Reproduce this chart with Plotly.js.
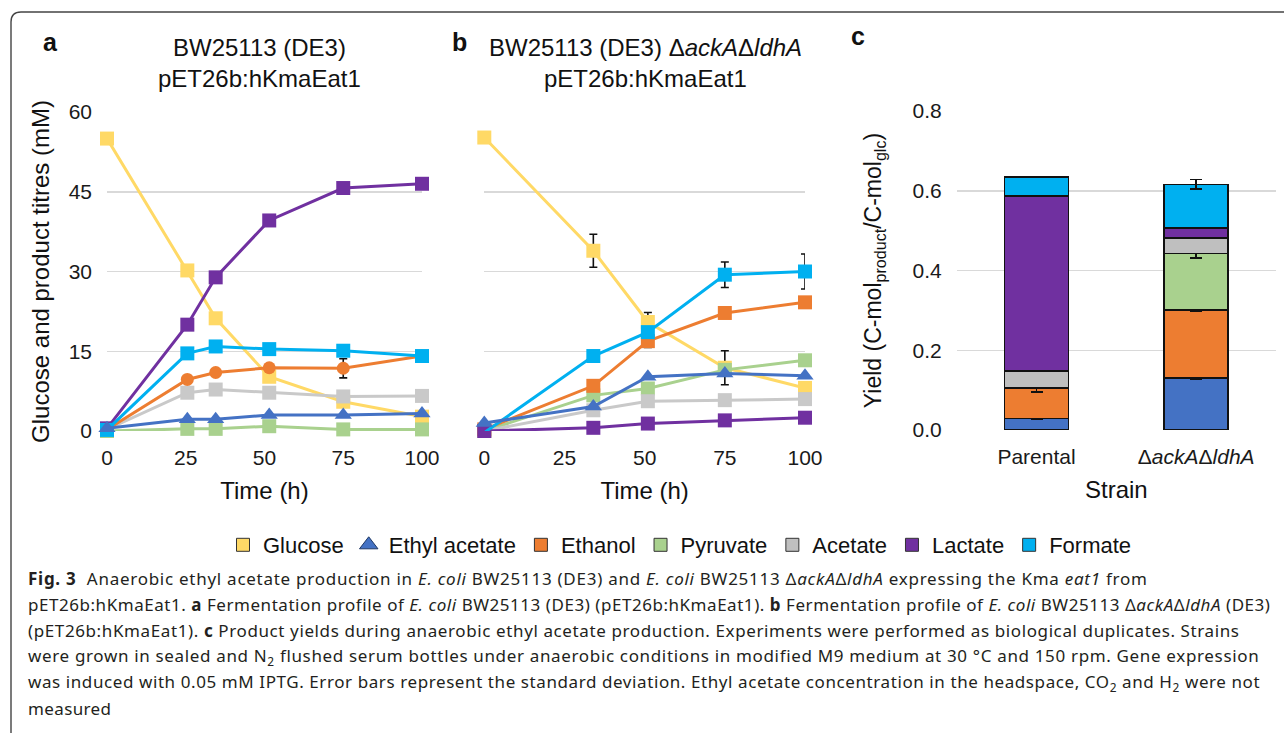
<!DOCTYPE html>
<html>
<head>
<meta charset="utf-8">
<script src="https://cdn.plot.ly/plotly-3.0.1.min.js"></script>
<style>html,body{margin:0;padding:0;background:#fff;}#chart{width:1284px;height:734px;}</style>
</head>
<body>
<div id="chart"></div>
<script>
// ---------- data ----------
const timeA = [0, 25.5, 34.5, 51.5, 75, 100];
const glucoseA = [55, 30.2, 21.2, 10.2, 5.5, 2.7];
const glucoseErrA = [0, 0.6, 0, 0, 0, 0];
const ethylAcetateA = [0.5, 2.2, 2.2, 3.0, 3.0, 3.3];
const ethanolA = [0.3, 9.7, 11.0, 11.9, 11.8, 14.1];
const ethanolErrA = [0, 0, 0, 0, 1.8, 0];
const pyruvateA = [0, 0.4, 0.4, 0.9, 0.3, 0.3];
const acetateA = [0.3, 7.2, 7.8, 7.2, 6.5, 6.6];
const lactateA = [0.5, 20.0, 28.9, 39.6, 45.7, 46.5];
const formateA = [0.2, 14.6, 15.9, 15.4, 15.1, 14.1];
const formateErrA = [0, 0.5, 0, 0, 0, 0];

const timeB = [0, 34, 51, 75, 100];
const glucoseB = [55.2, 33.9, 20.5, 11.9, 8.1];
const glucoseErrB = [0, 3.1, 1.8, 3.2, 0];
const ethylAcetateB = [1.5, 4.6, 10.2, 10.8, 10.4];
const ethanolB = [0.3, 8.5, 16.9, 22.2, 24.2];
const ethanolErrB = [0, 1.0, 1.2, 0, 0];
const pyruvateB = [0, 6.7, 8.0, 11.5, 13.3];
const acetateB = [0, 3.9, 5.6, 5.8, 6.0];
const lactateB = [0, 0.6, 1.4, 2.0, 2.5];
const formateB = [-0.3, 14.1, 18.6, 29.4, 30.0];
const formateErrB = [0, 0, 0, 2.4, 3.3];

const strains = ['Parental', 'Δ<i>ackA</i>Δ<i>ldhA</i>'];
const yieldEthylAcetate = [0.029, 0.130];
const yieldEthylAcetateErr = [0.003, 0.002];
const yieldEthanol = [0.076, 0.171];
const yieldEthanolErr = [0.010, 0.002];
const yieldPyruvate = [0.0, 0.142];
const yieldPyruvateErr = [0, 0.012];
const yieldAcetate = [0.043, 0.039];
const yieldAcetateErr = [0.001, 0.001];
const yieldLactate = [0.439, 0.024];
const yieldLactateErr = [0.001, 0.001];
const yieldFormate = [0.048, 0.110];
const yieldFormateErr = [0.001, 0.012];

const legendNames = ['Glucose', 'Ethyl acetate', 'Ethanol', 'Pyruvate', 'Acetate', 'Lactate', 'Formate'];

// ---------- styles ----------
const C = {
  glucose: '#FFD966', ea: '#4472C4', ethanol: '#ED7D31', pyruvate: '#A9D18E',
  acetate: '#C9C9C9', lactate: '#7030A0', formate: '#00B0F0'
};
const FONT = 'Arial, "Liberation Sans", sans-serif';
const W = 1284, H = 734;
const px = v => v / W;
const py = v => 1 - v / H;

function line(x, y, color, symbol, xa, ya, err, size) {
  const t = {
    type: 'scatter', mode: 'lines+markers', x: x, y: y, xaxis: xa, yaxis: ya,
    showlegend: false, cliponaxis: false, hoverinfo: 'skip',
    line: {color: color, width: 3},
    marker: {color: color, symbol: symbol, size: size || 14}
  };
  if (err) t.error_y = {type: 'data', array: err, visible: true, color: '#111', thickness: 1.6, width: 4};
  return t;
}

const traces = [];
// panel a
traces.push(line(timeA, glucoseA, C.glucose, 'square', 'x', 'y', glucoseErrA));
traces.push(line(timeA, pyruvateA, C.pyruvate, 'square', 'x', 'y'));
traces.push(line(timeA, acetateA, C.acetate, 'square', 'x', 'y'));
traces.push(line(timeA, ethanolA, C.ethanol, 'circle', 'x', 'y', ethanolErrA, 13));
traces.push(line(timeA, lactateA, C.lactate, 'square', 'x', 'y'));
traces.push(line(timeA, formateA, C.formate, 'square', 'x', 'y', formateErrA));
traces.push(line(timeA, ethylAcetateA, C.ea, 'triangle-up', 'x', 'y', null, 15));
// panel b
traces.push(line(timeB, glucoseB, C.glucose, 'square', 'x2', 'y2', glucoseErrB));
traces.push(line(timeB, pyruvateB, C.pyruvate, 'square', 'x2', 'y2'));
traces.push(line(timeB, acetateB, C.acetate, 'square', 'x2', 'y2'));
traces.push(line(timeB, ethanolB, C.ethanol, 'square', 'x2', 'y2', ethanolErrB));
traces.push(line(timeB, lactateB, C.lactate, 'square', 'x2', 'y2'));
traces.push(line(timeB, formateB, C.formate, 'square', 'x2', 'y2', formateErrB));
traces.push(line(timeB, ethylAcetateB, C.ea, 'triangle-up', 'x2', 'y2', null, 15));

// panel c stacked bars
function bar(y, err, color) {
  return {
    type: 'bar', x: strains, y: y, xaxis: 'x3', yaxis: 'y3', showlegend: false, hoverinfo: 'skip',
    marker: {color: color, line: {color: '#111', width: 1.6}},
    error_y: {type: 'data', array: err, visible: true, color: '#111', thickness: 1.6, width: 6}
  };
}
traces.push(bar(yieldEthylAcetate, yieldEthylAcetateErr, C.ea));
traces.push(bar(yieldEthanol, yieldEthanolErr, C.ethanol));
traces.push(bar(yieldPyruvate, yieldPyruvateErr, C.pyruvate));
traces.push(bar(yieldAcetate, yieldAcetateErr, '#BFBFBF'));
traces.push(bar(yieldLactate, yieldLactateErr, C.lactate));
traces.push(bar(yieldFormate, yieldFormateErr, C.formate));

// legend entries
const legendColors = [C.glucose, C.ea, C.ethanol, C.pyruvate, '#BFBFBF', C.lactate, C.formate];
legendNames.forEach((n, i) => {
  traces.push({
    type: 'scatter', mode: 'markers', x: [null], y: [null], xaxis: 'x', yaxis: 'y',
    name: n, showlegend: true, hoverinfo: 'skip',
    marker: {color: legendColors[i], symbol: i === 1 ? 'triangle-up' : 'square',
             size: i === 1 ? 16 : 13, line: {color: i === 1 ? '#1F3864' : '#333', width: 1}}
  });
});

const tickFont = {family: FONT, size: 21, color: '#1a1a1a'};
const titleFont = {family: FONT, size: 24, color: '#111'};
const gridColor = '#D9D9D9';

const yBase = {
  range: [0, 60], tickvals: [0, 15, 30, 45, 60], showgrid: true, gridcolor: gridColor, gridwidth: 1.5,
  zeroline: false, showline: false, ticks: '', tickfont: tickFont, ticklabelstandoff: 14, fixedrange: true
};
const xBase = {
  range: [0, 100], tickvals: [0, 25, 50, 75, 100], showgrid: false, zeroline: false, showline: false,
  ticks: '', tickfont: tickFont, ticklabelstandoff: 12, fixedrange: true,
  title: {text: 'Time (h)', font: titleFont, standoff: 14}
};

const ann = [];
function txt(x, y, text, size, opts) {
  ann.push(Object.assign({xref: 'paper', yref: 'paper', x: px(x), y: py(y), text: text, showarrow: false,
    font: {family: FONT, size: size, color: '#111'}, xanchor: 'center', yanchor: 'middle'}, opts || {}));
}
txt(50, 42, '<b>a</b>', 25);
txt(459, 42, '<b>b</b>', 25);
txt(858, 36, '<b>c</b>', 25);
txt(259, 48, 'BW25113 (DE3)', 24);
txt(259, 78, 'pET26b:hKmaEat1', 24);
txt(645, 48, 'BW25113 (DE3) Δ<i>ackA</i>Δ<i>ldhA</i>', 24);
txt(645, 78, 'pET26b:hKmaEat1', 24);
const captionStart = ann.length;

const capFont = {family: '"Noto Sans", "Open Sans", sans-serif', size: 17, color: '#231F20'};
const caption = [
  '<b>Fig. 3</b>  Anaerobic ethyl acetate production in <i>E. coli</i> BW25113 (DE3) and <i>E. coli</i> BW25113 Δ<i>ackA</i>Δ<i>ldhA</i> expressing the Kma <i>eat1</i> from',
  'pET26b:hKmaEat1. <b>a</b> Fermentation profile of <i>E. coli</i> BW25113 (DE3) (pET26b:hKmaEat1). <b>b</b> Fermentation profile of <i>E. coli</i> BW25113 Δ<i>ackA</i>Δ<i>ldhA</i> (DE3)',
  '(pET26b:hKmaEat1). <b>c</b> Product yields during anaerobic ethyl acetate production. Experiments were performed as biological duplicates. Strains',
  'were grown in sealed and N<sub>2</sub> flushed serum bottles under anaerobic conditions in modified M9 medium at 30 °C and 150 rpm. Gene expression',
  'was induced with 0.05 mM IPTG. Error bars represent the standard deviation. Ethyl acetate concentration in the headspace, CO<sub>2</sub> and H<sub>2</sub> were not',
  'measured'
];
// right edge (px) of each caption line in the reference, used to fit letter spacing
const captionRight = [1145, 1268, 1237, 1258, 1260, 109];
const captionLeft = 26;
caption.forEach((c, i) => {
  ann.push({xref: 'paper', yref: 'paper', x: px(captionLeft), y: py(578 + 26 * i), text: c, showarrow: false,
    font: capFont, xanchor: 'left', yanchor: 'middle', align: 'left'});
});

const layout = {
  width: W, height: H, autosize: false,
  margin: {l: 0, r: 0, t: 0, b: 0, pad: 0},
  paper_bgcolor: '#fff', plot_bgcolor: 'rgba(0,0,0,0)',
  font: {family: FONT, color: '#111'},
  barmode: 'stack', bargap: 0.6,
  xaxis: Object.assign({}, xBase, {domain: [px(107), px(422)], anchor: 'y'}),
  yaxis: Object.assign({}, yBase, {domain: [py(431), py(112)], anchor: 'x',
    title: {text: 'Glucose and product titres (mM)', font: titleFont, standoff: 12}}),
  xaxis2: Object.assign({}, xBase, {domain: [px(484.3), px(805)], anchor: 'y2'}),
  yaxis2: Object.assign({}, yBase, {domain: [py(431), py(112)], anchor: 'x2', showticklabels: false}),
  xaxis3: {domain: [px(956.7), px(1276)], anchor: 'y3', type: 'category', showgrid: false, zeroline: false,
    showline: false, ticks: '', tickfont: tickFont, ticklabelstandoff: 12, fixedrange: true,
    title: {text: 'Strain', font: titleFont, standoff: 14}},
  yaxis3: {domain: [py(430), py(111)], anchor: 'x3', range: [0, 0.8], tickvals: [0, 0.2, 0.4, 0.6, 0.8],
    tickformat: '.1f', showgrid: true, gridcolor: gridColor, gridwidth: 1.5, zeroline: false, showline: false,
    ticks: '', tickfont: tickFont, ticklabelstandoff: 14, fixedrange: true,
    title: {text: 'Yield (C-mol<sub>product</sub>/C-mol<sub>glc</sub>)', font: {family: FONT, size: 23, color: '#111'}, standoff: 24}},
  showlegend: true,
  legend: {orientation: 'h', traceorder: 'normal', x: px(680), y: py(545), xanchor: 'center', yanchor: 'middle',
    font: {family: FONT, size: 22, color: '#111'}, itemclick: false, itemdoubleclick: false,
    bgcolor: 'rgba(0,0,0,0)', tracegroupgap: 0},
  annotations: ann,
  shapes: [{
    type: 'path', xref: 'paper', yref: 'paper',
    path: `M ${px(11)},${py(733)} L ${px(11)},${py(22)} Q ${px(11)},${py(12)} ${px(21)},${py(12)} L ${px(1284)},${py(12)}`,
    line: {color: '#444', width: 1.4}
  }]
};

Plotly.newPlot('chart', traces, layout, {displayModeBar: false, staticPlot: true}).then(() => {
  // stretch each caption line to the reference line length with letter spacing
  caption.forEach((c, i) => {
    const g = document.querySelector('g.annotation[data-index="' + (captionStart + i) + '"]');
    if (!g) return;
    const t = g.querySelector('text.annotation-text');
    if (!t) return;
    const w = t.getBBox().width;
    const n = t.textContent.length;
    const target = captionRight[i] - captionLeft;
    const ls = (target - w) / Math.max(n - 1, 1);
    t.style.letterSpacing = ls.toFixed(3) + 'px';
  });
});
</script>
</body>
</html>
